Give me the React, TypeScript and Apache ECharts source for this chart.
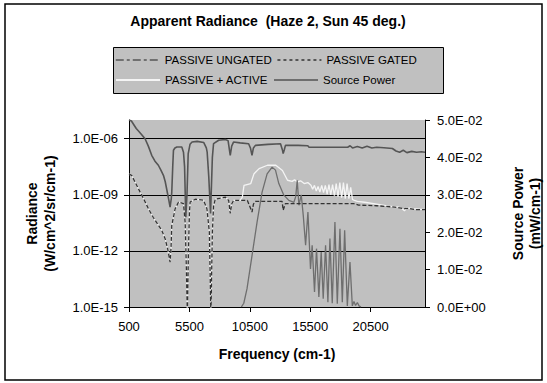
import React, { useEffect, useRef } from "react";
import * as echarts from "echarts";

// ---- Data ----
const ungatedFreq = [500,700,1100,1500,1830,2100,2380,2650,2930,3150,3350,3500,3650,3800,3900,4000,4040,4120,4180,4300,4460,4870,5010,5100,5200,5300,5400,5550,5720,6140,6690,6900,6970,7100,7250,7400,7500,7920,8470,8700,8880,9000,9150,9700,10400,10550,10680,10800,10960,12000,13040,13200,13260,13350,13450,14500,15300,15400,17000,18600,18800,19000,19400,19800,20200,20600,21000,21600,22300,22600,22900,23200,23500,23900,24300,24700,25000];
const ungatedRad = [1.0e-5,8.9e-6,3.5e-6,1.8e-6,1.0e-6,4.0e-7,1.3e-7,6.3e-8,3.8e-8,2.0e-8,1.1e-8,5.0e-9,1.6e-9,5.0e-10,2.2e-10,6.3e-10,1.4e-9,3.2e-8,2.4e-7,3.2e-7,3.6e-7,3.6e-7,1.9e-7,3.2e-8,6.3e-11,1.0e-9,1.6e-7,5.0e-7,6.6e-7,7.2e-7,6.2e-7,3.2e-7,1.9e-7,1.0e-8,1.0e-10,1.0e-7,5.5e-7,8.3e-7,9.1e-7,7.9e-7,1.3e-7,4.0e-7,6.6e-7,6.0e-7,5.4e-7,3.2e-7,1.3e-7,3.2e-7,4.4e-7,5.0e-7,5.4e-7,2.5e-7,1.6e-7,2.5e-7,4.4e-7,4.4e-7,4.2e-7,3.5e-7,3.5e-7,3.5e-7,4.2e-7,3.2e-7,3.8e-7,3.2e-7,4.0e-7,3.2e-7,3.5e-7,3.3e-7,3.0e-7,2.2e-7,1.9e-7,2.4e-7,1.8e-7,2.1e-7,1.9e-7,2.0e-7,1.9e-7];

const gatedFreq = [500,720,1280,1700,2110,2500,2940,3200,3490,3700,3900,3980,4040,4320,4600,5010,5150,5250,5330,5420,5500,5560,5980,6670,6950,7150,7280,7400,7500,7640,8470,8750,8880,9000,9150,10300,10680,10800,10960,13170,13260,13450,19100,19500,21000,22500,23300,23600,24200,25000];
const gatedRad = [1.26e-8,1.1e-8,2.1e-9,6.3e-10,1.8e-10,6.3e-11,2.3e-11,1.3e-11,4.5e-12,1.3e-12,2.5e-13,1.6e-12,2.3e-11,1.8e-10,4.1e-10,3.4e-10,3.2e-11,1.0e-13,3.2e-16,1.0e-12,1.0e-10,4.1e-10,5.8e-10,5.1e-10,1.8e-10,1.0e-11,3.2e-16,1.0e-11,2.5e-10,5.8e-10,7.6e-10,5.0e-10,1.0e-10,3.2e-10,5.0e-10,5.0e-10,1.2e-10,3.2e-10,4.5e-10,4.5e-10,1.5e-10,3.4e-10,3.4e-10,2.8e-10,2.6e-10,2.2e-10,1.8e-10,1.9e-10,1.6e-10,1.6e-10];

const activeFreq = [500,720,1280,1700,2110,2500,2940,3200,3490,3700,3900,3980,4040,4320,4600,5010,5150,5250,5330,5420,5500,5560,5980,6670,6950,7150,7280,7400,7500,7640,8470,8750,8880,9000,9150,9700,9880,10020,10580,10850,11270,11960,12650,13200,13620,14000,14200,14450,14700,15000,15300,15560,15700,15850,16000,16150,16300,16450,16600,16750,16900,17050,17200,17350,17500,17650,17800,17950,18100,18250,18400,18550,18700,18850,19000,19150,19400,20000,21000,22000,22800,23100,23300,23500,24000,24500,25000];
const activeRad = [1.26e-8,1.1e-8,2.1e-9,6.3e-10,1.8e-10,6.3e-11,2.3e-11,1.3e-11,4.5e-12,1.3e-12,2.5e-13,1.6e-12,2.3e-11,1.8e-10,4.1e-10,3.4e-10,3.2e-11,1.0e-13,3.2e-16,1.0e-12,1.0e-10,4.1e-10,5.8e-10,5.1e-10,1.8e-10,1.0e-11,3.2e-16,1.0e-11,2.5e-10,5.8e-10,7.6e-10,5.0e-10,1.0e-10,3.2e-10,5.0e-10,5.0e-10,7.6e-10,3.2e-9,4.0e-9,1.35e-8,2.5e-8,3.8e-8,3.8e-8,2.0e-8,6.0e-9,5.2e-9,6.3e-9,4.9e-9,5.6e-9,4.0e-9,4.5e-9,3.2e-9,2.0e-9,3.2e-9,1.6e-9,2.8e-9,1.4e-9,3.2e-9,1.3e-9,3.2e-9,1.1e-9,3.5e-9,1.0e-9,3.5e-9,8.9e-10,4.0e-9,7.9e-10,4.5e-9,7.1e-10,4.5e-9,6.3e-10,4.0e-9,6.3e-10,2.5e-9,5.6e-10,5.0e-10,4.5e-10,4.0e-10,3.2e-10,2.5e-10,2.2e-10,1.8e-10,1.4e-10,2.0e-10,1.8e-10,1.7e-10,1.6e-10];

const sourceFreq = [9800,10000,10269,10685,11100,11516,11931,12347,12624,12900,13316,13732,14000,14147,14300,14424,14563,14757,14923,15117,15310,15523,15660,15855,16020,16215,16410,16575,16770,16963,17130,17323,17545,17740,17960,18155,18350,18570,18790,18985,19120,19250,19400,19540,19700];
const sourceVal = [0,0.001,0.0049,0.0138,0.0227,0.0307,0.0356,0.0374,0.0366,0.033,0.0299,0.0285,0.0282,0.028,0.0295,0.0339,0.0272,0.030,0.0245,0.0165,0.0254,0.0102,0.0165,0.004,0.0156,0.0027,0.0147,0.0022,0.0165,0.0013,0.0183,0.001,0.0227,0.0009,0.0209,0.0013,0.0205,0.0003,0.012,0.0003,0.0015,0.0004,0.0012,0.0003,0];

const xTicks = [500, 5500, 10500, 15500, 20500];
const radianceTickExps = [-15, -12, -9, -6];

const FONT = "'Liberation Sans', Arial, sans-serif";

function sci(v: number): string {
  if (v === 0) return "0.0E+00";
  const [m, e] = v.toExponential(1).split("e");
  const n = parseInt(e, 10);
  return `${m}E${n < 0 ? "-" : "+"}${String(Math.abs(n)).padStart(2, "0")}`;
}

function logPairs(f: number[], v: number[]) {
  return f.map((x, i) => [x, Math.log10(v[i])]);
}

const hiddenSymbol = { opacity: 0, color: "transparent", borderWidth: 0 };

export default function App() {
  const ref = useRef<HTMLDivElement>(null);
  useEffect(() => {
    if (!ref.current) return;
    const chart = echarts.init(ref.current, undefined, { renderer: "svg" });
    const legendText = { fontFamily: FONT, fontSize: 11.5, color: "#000", width: 100 };
    const option: any = {
      animation: false,
      textStyle: { fontFamily: FONT, color: "#000" },
      title: {
        text: "Apparent Radiance  (Haze 2, Sun 45 deg.)",
        left: 268,
        textAlign: "center",
        top: 14,
        padding: 0,
        textStyle: { fontFamily: FONT, fontSize: 14, fontWeight: "bold", color: "#000" },
      },
      graphic: [
        {
          type: "rect",
          z: -10,
          silent: true,
          shape: { x: 5, y: 4, width: 537, height: 376 },
          style: { fill: "#fff", stroke: "#000", lineWidth: 1.5 },
        },
        {
          type: "rect",
          z: 1,
          silent: true,
          shape: { x: 113.5, y: 47.5, width: 330, height: 46 },
          style: { fill: "#c0c0c0", stroke: "#000", lineWidth: 1 },
        },
      ],
      legend: [
        {
          data: [
            { name: "PASSIVE UNGATED", itemStyle: hiddenSymbol, lineStyle: { type: [8, 3, 3, 3], width: 1.5 } },
            { name: "PASSIVE GATED", itemStyle: hiddenSymbol, lineStyle: { type: [3, 3], width: 1.5 } },
          ],
          left: 115,
          top: 54,
          padding: 0,
          itemWidth: 44,
          itemHeight: 14,
          itemGap: 5,
          z: 5,
          textStyle: legendText,
        },
        {
          data: [
            { name: "PASSIVE + ACTIVE", itemStyle: hiddenSymbol },
            { name: "Source Power", itemStyle: hiddenSymbol },
          ],
          left: 115,
          top: 74,
          padding: 0,
          itemWidth: 44,
          itemHeight: 14,
          itemGap: 5,
          z: 5,
          textStyle: legendText,
        },
      ],
      grid: {
        left: 129,
        right: 122,
        top: 120,
        bottom: 76,
        show: true,
        backgroundColor: "#c0c0c0",
        borderWidth: 0,
        containLabel: false,
        outerBoundsMode: "none",
      },
      xAxis: {
        type: "value",
        min: 500,
        max: 25000,
        interval: 5000,
        name: "Frequency (cm-1)",
        nameLocation: "middle",
        nameGap: 40,
        nameTextStyle: { fontFamily: FONT, fontSize: 14, fontWeight: "bold", color: "#000" },
        axisLine: { show: true, onZero: false, lineStyle: { color: "#000", width: 1 } },
        axisTick: { show: true, length: 5, customValues: xTicks, lineStyle: { color: "#000" } },
        axisLabel: {
          fontFamily: FONT,
          fontSize: 13,
          color: "#000",
          margin: 13,
          customValues: xTicks,
          formatter: (v: number) => String(v),
        },
        splitLine: { show: false },
      },
      yAxis: [
        {
          type: "value",
          position: "left",
          min: -15,
          max: -5,
          interval: 3,
          name: "Radiance\n(W/cm^2/sr/cm-1)",
          nameLocation: "middle",
          nameGap: 70,
          nameTextStyle: { fontFamily: FONT, fontSize: 14, fontWeight: "bold", color: "#000", lineHeight: 18 },
          axisLine: { show: true, onZero: false, lineStyle: { color: "#000", width: 1 } },
          axisTick: { show: true, length: 5, customValues: radianceTickExps, lineStyle: { color: "#000" } },
          axisLabel: {
            fontFamily: FONT,
            fontSize: 13,
            color: "#000",
            margin: 11,
            customValues: radianceTickExps,
            formatter: (v: number) => sci(Math.pow(10, v)),
          },
          splitLine: {
            show: true,
            showMinLine: false,
            lineStyle: { color: "#000", width: 1 },
          },
        },
        {
          type: "value",
          position: "right",
          min: 0,
          max: 0.05,
          interval: 0.01,
          name: "Source Power\n(mW/cm-1)",
          nameLocation: "middle",
          nameGap: 84,
          nameTextStyle: { fontFamily: FONT, fontSize: 14, fontWeight: "bold", color: "#000", lineHeight: 17 },
          axisLine: { show: true, onZero: false, lineStyle: { color: "#000", width: 1 } },
          axisTick: { show: true, length: 5, lineStyle: { color: "#000" } },
          axisLabel: { fontFamily: FONT, fontSize: 13, color: "#000", margin: 12, formatter: (v: number) => sci(v) },
          splitLine: { show: false },
        },
      ],
      series: [
        {
          name: "PASSIVE + ACTIVE",
          type: "line",
          yAxisIndex: 0,
          symbol: "none",
          z: 2,
          data: logPairs(activeFreq, activeRad),
          lineStyle: { color: "#f4f4f4", width: 1.3 },
          itemStyle: { color: "#f4f4f4" },
        },
        {
          name: "Source Power",
          type: "line",
          yAxisIndex: 1,
          symbol: "none",
          z: 3,
          data: sourceFreq.map((f, i) => [f, sourceVal[i]]),
          lineStyle: { color: "#6e6e6e", width: 1.3 },
          itemStyle: { color: "#6e6e6e" },
        },
        {
          name: "PASSIVE UNGATED",
          type: "line",
          yAxisIndex: 0,
          symbol: "none",
          z: 3,
          data: logPairs(ungatedFreq, ungatedRad),
          lineStyle: { color: "#555555", width: 1.6 },
          itemStyle: { color: "#555555" },
        },
        {
          name: "PASSIVE GATED",
          type: "line",
          yAxisIndex: 0,
          symbol: "none",
          z: 4,
          data: logPairs(gatedFreq, gatedRad),
          lineStyle: { color: "#333333", width: 1.3, type: [4, 2] },
          itemStyle: { color: "#333333" },
        },
      ],
    };
    chart.setOption(option);
    return () => chart.dispose();
  }, []);
  return (
    <div
      ref={ref}
      style={{ position: "fixed", left: 0, top: 0, width: 547, height: 383, background: "#fff" }}
    />
  );
}
